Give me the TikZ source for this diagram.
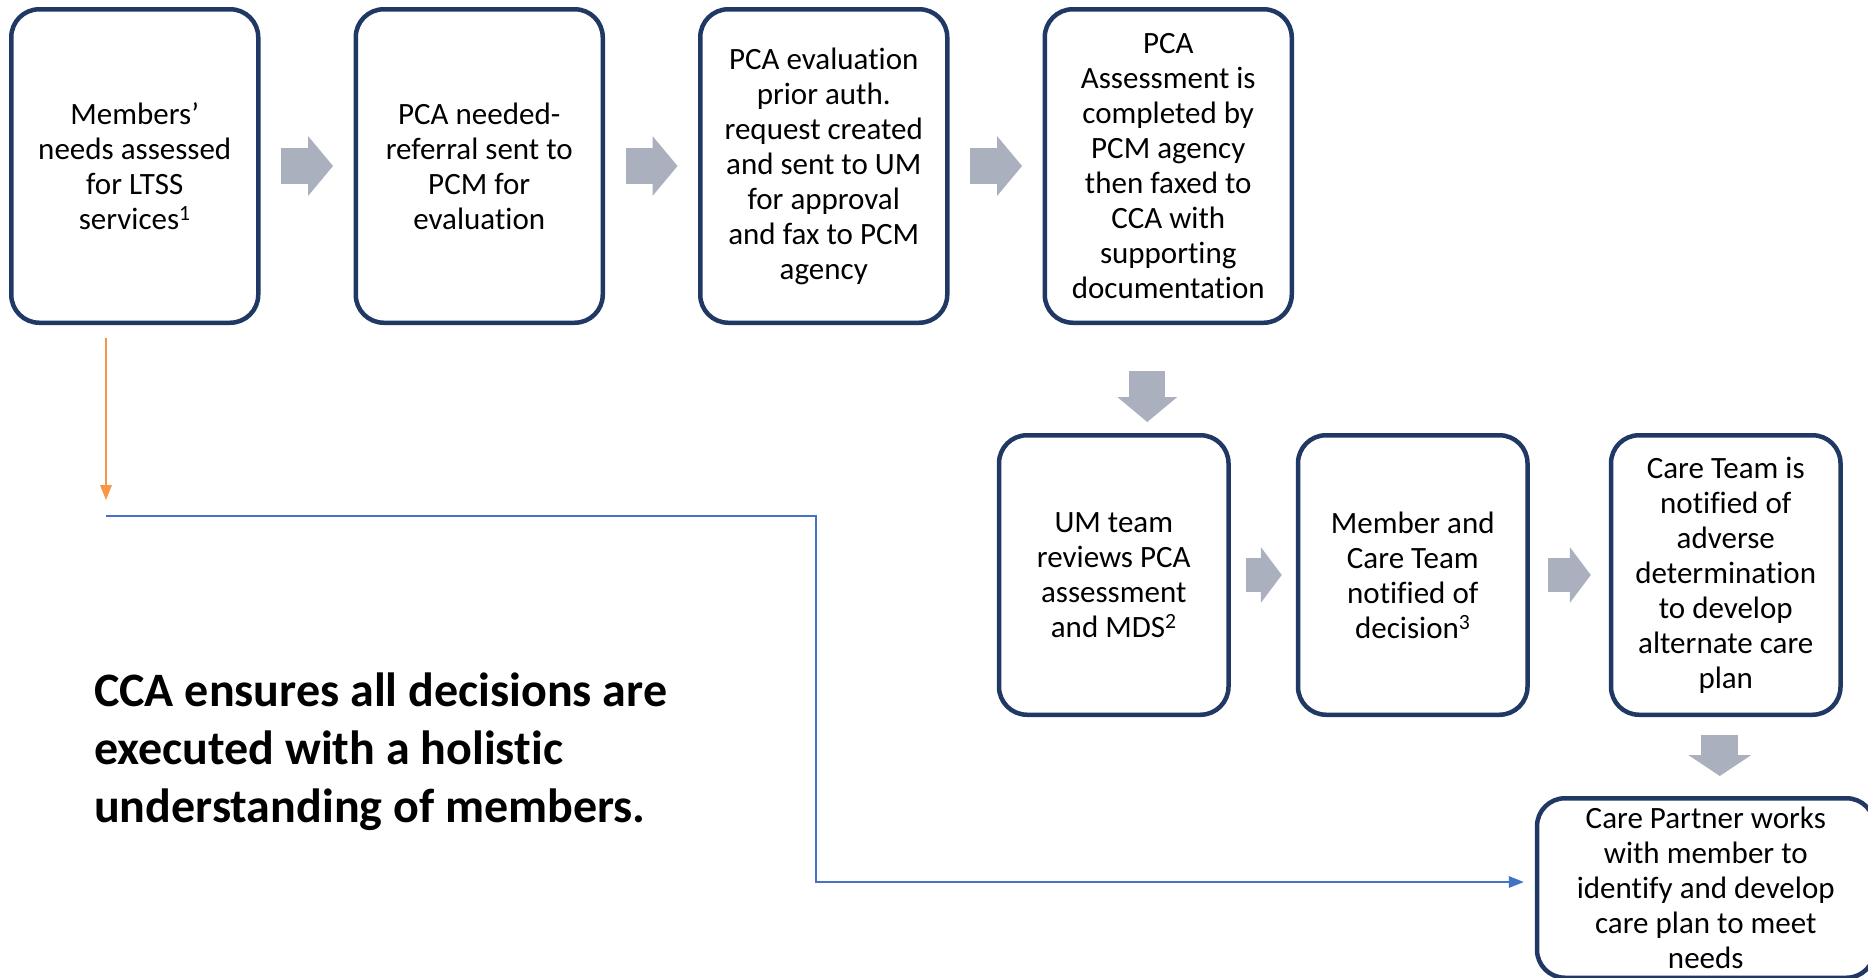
\documentclass[tikz,border=0pt]{standalone}
\usepackage{fontspec}
\setmainfont{Carlito}[Ligatures=NoCommon]
\usetikzlibrary{arrows.meta,positioning,calc}
\definecolor{BoxBlue}{HTML}{1F3864}
\definecolor{StepGray}{HTML}{ABB0BF}
\definecolor{LinkBlue}{HTML}{4472C4}
\definecolor{NoteOrange}{HTML}{F79646}

\begin{document}
\begin{tikzpicture}[x=1pt,y=-1pt,
  card/.style={rounded corners=28pt,draw=BoxBlue,line width=4.5pt,fill=white,
    minimum width=247pt,minimum height=313.5pt,align=center,inner sep=0pt,
    font=\fontsize{31}{35}\selectfont},
  lowcard/.style={card,minimum width=229.5pt,minimum height=279.5pt},
  blk/.style={draw=StepGray,line width=36pt,
    -{Triangle[length=25pt,width=60pt,line width=0pt]}},
  lowblk/.style={draw=StepGray,line width=34pt,
    -{Triangle[length=21pt,width=56pt,line width=0pt]}},
  link/.style={draw=LinkBlue,line width=2.2pt,
    -{Triangle[length=15pt,width=12pt,line width=0pt]}},
  hint/.style={draw=NoteOrange,line width=2pt,
    -{Triangle[length=15pt,width=12pt,line width=0pt]}},
  note/.style={align=left,inner sep=0pt,font=\bfseries\fontsize{48}{58}\selectfont}
]
\useasboundingbox (0,0) rectangle (1868,977);
\clip (0,0) rectangle (1868,977);
% top row
\node[card] (needs) at (134.75,166) {Members’\\needs assessed\\for LTSS\\services\textsuperscript{1}};
\node[card,right=93pt of needs] (referral) {PCA needed-\\referral sent to\\PCM for\\evaluation};
\node[card,right=93pt of referral] (priorauth) {PCA evaluation\\prior auth.\\request created\\and sent to UM\\for approval\\and fax to PCM\\agency};
\node[card,right=93pt of priorauth] (assess) {PCA\\Assessment is\\completed by\\PCM agency\\then faxed to\\CCA with\\supporting\\documentation};
\draw[blk,shorten <=20.5pt,shorten >=20.5pt] (needs) -- (referral);
\draw[blk,shorten <=20.5pt,shorten >=20.5pt] (referral) -- (priorauth);
\draw[blk,shorten <=20.5pt,shorten >=20.5pt] (priorauth) -- (assess);
% second row
\node[lowcard] (review) at (1113.75,575) {UM team\\reviews PCA\\assessment\\and MDS\textsuperscript{2}};
\node[lowcard,right=65pt of review] (notify) {Member and\\Care Team\\notified of\\decision\textsuperscript{3}};
\node[lowcard,right=79pt of notify] (adverse) {Care Team is\\notified of\\adverse\\determination\\to develop\\alternate care\\plan};
\node[card,minimum width=337.5pt,minimum height=179.5pt,below=79pt of adverse,xshift=-20pt] (partner)
  {Care Partner works\\with member to\\identify and develop\\care plan to meet\\needs};
\draw[blk,shorten <=46pt,shorten >=11pt] ([xshift=-21pt]assess.south) -- ([xshift=-21pt]assess.south |- review.north);
\draw[lowblk,shorten <=15pt,shorten >=14pt] (review) -- (notify);
\draw[lowblk,shorten <=18pt,shorten >=18pt] (notify) -- (adverse);
\draw[blk,line width=37pt,-{Triangle[length=21pt,width=63pt,line width=0pt]},shorten <=18pt,shorten >=20pt]
  ([xshift=-6pt]adverse.south) -- ([xshift=-6pt]adverse.south |- partner.north);
% side path
\coordinate (hinttop) at (106,338);
\coordinate (hintend) at (106,500);
\draw[hint] (hinttop) -- (hintend);
\coordinate (split) at (106,516);
\draw[link,shorten >=11pt] (split) -- (816,516) |- ([yshift=6pt]partner.west);
\node[note,anchor=west] (motto) at (94,751.5) {CCA ensures all decisions are\\executed with a holistic\\understanding of members.};
\end{tikzpicture}
\end{document}
